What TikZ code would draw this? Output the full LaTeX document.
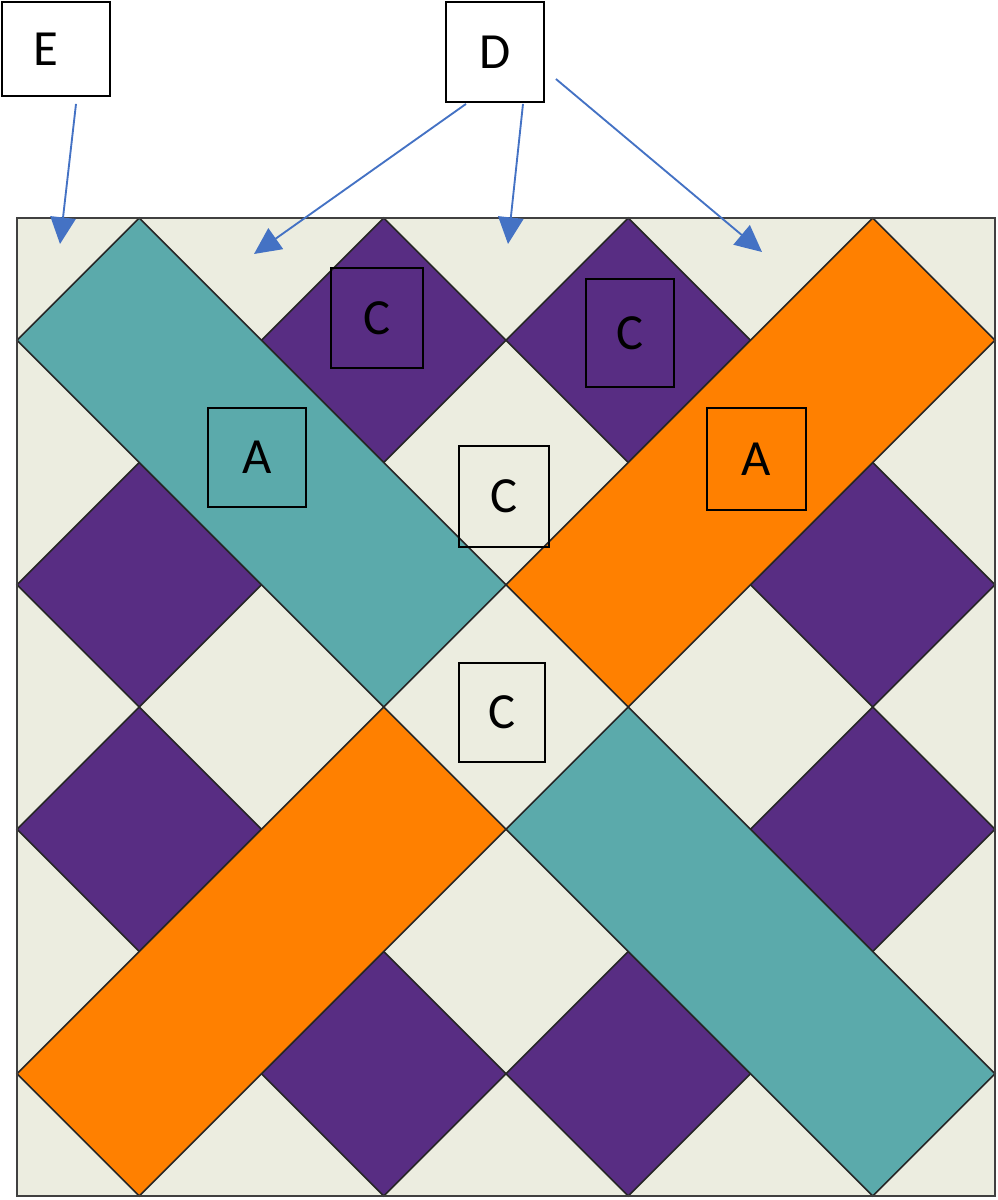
\documentclass[tikz,border=0pt]{standalone}
\usepackage{fontspec}
\setmainfont{Carlito}
\usetikzlibrary{arrows.meta,calc}
\definecolor{quiltcream}{HTML}{ECEDE0}
\definecolor{quiltteal}{HTML}{5BAAAB}
\definecolor{quiltorange}{HTML}{FF8000}
\definecolor{quiltpurple}{HTML}{582D83}
\definecolor{pointerblue}{HTML}{4472C4}
\tikzset{
  patch/.style={draw=black!85,line width=1.2pt,line join=miter},
  tag/.style={draw=black,line width=1.4pt,inner sep=0pt,font=\fontsize{38}{40}\selectfont},
  pointer/.style={draw=pointerblue,line width=1.4pt,-{Triangle[length=20pt,width=19pt]}}
}

\begin{document}
\begin{tikzpicture}[x=0.75pt,y=0.75pt,yscale=-1,xscale=1]
\useasboundingbox (0,0) rectangle (997,1200);
% background of the block
\fill [quiltcream] (17,218) rectangle (995,1196);
% purple squares
\draw [patch,fill=quiltpurple] (261.5,340.25) -- (383.75,218) -- (506,340.25) -- (383.75,462.5) -- cycle ;
\draw [patch,fill=quiltpurple] (506,340.25) -- (628.25,218) -- (750.5,340.25) -- (628.25,462.5) -- cycle ;
\draw [patch,fill=quiltpurple] (17,584.75) -- (139.25,462.5) -- (261.5,584.75) -- (139.25,707) -- cycle ;
\draw [patch,fill=quiltpurple] (750.5,584.75) -- (872.75,462.5) -- (995,584.75) -- (872.75,707) -- cycle ;
\draw [patch,fill=quiltpurple] (17,829.25) -- (139.25,707) -- (261.5,829.25) -- (139.25,951.5) -- cycle ;
\draw [patch,fill=quiltpurple] (750.5,829.25) -- (872.75,707) -- (995,829.25) -- (872.75,951.5) -- cycle ;
\draw [patch,fill=quiltpurple] (261.5,1073.75) -- (383.75,951.5) -- (506,1073.75) -- (383.75,1196) -- cycle ;
\draw [patch,fill=quiltpurple] (506,1073.75) -- (628.25,951.5) -- (750.5,1073.75) -- (628.25,1196) -- cycle ;
% bands
\draw [patch,fill=quiltteal] (139.25,218) -- (506,584.75) -- (383.75,707) -- (17,340.25) -- cycle ;
\draw [patch,fill=quiltorange] (872.75,218) -- (995,340.25) -- (628.25,707) -- (506,584.75) -- cycle ;
\draw [patch,fill=quiltteal] (628.25,707) -- (995,1073.75) -- (872.75,1196) -- (506,829.25) -- cycle ;
\draw [patch,fill=quiltorange] (383.75,707) -- (506,829.25) -- (139.25,1196) -- (17,1073.75) -- cycle ;
% outer edge
\draw [draw=black!75,line width=1.6pt] (17,218) rectangle (995,1196);
% labels
\node [tag,fill=white,minimum width=81pt,minimum height=70.5pt] (E) at (56,49) {E\hspace*{15pt}};
\node [tag,fill=white,minimum width=73.5pt,minimum height=75pt] (D) at (495,52) {D};
\node [tag,minimum width=69pt,minimum height=75pt] (Ctopleft) at (377,318) {C};
\node [tag,minimum width=66pt,minimum height=81pt] (Ctopright) at (630,333) {C};
\node [tag,minimum width=73pt,minimum height=74.25pt] (Aleft) at (257,457.5) {A};
\node [tag,minimum width=74.25pt,minimum height=76.5pt] (Aright) at (756.5,459) {A};
\node [tag,minimum width=67.5pt,minimum height=75.75pt] (Cupper) at (504,496.5) {C};
\node [tag,minimum width=64.5pt,minimum height=74.25pt] (Clower) at (502,712.5) {C};
% arrow ends
\coordinate (corner) at (60,244);
\coordinate (edgeleft) at (254,254);
\coordinate (edgemid) at (508,244);
\coordinate (edgeright) at (762,252);
\draw [pointer] ($(E.south)+(20,7)$) -- (corner);
\draw [pointer] ($(D.south)+(-29,1)$) -- (edgeleft);
\draw [pointer] ($(D.south)+(28,1)$) -- (edgemid);
\draw [pointer] ($(D.east)+(11,27)$) -- (edgeright);
\end{tikzpicture}
\end{document}
